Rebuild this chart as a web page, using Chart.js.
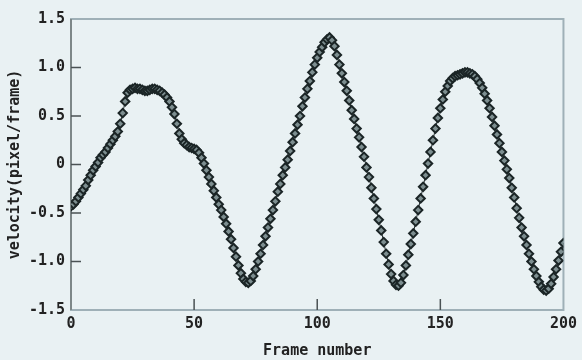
<!DOCTYPE html>
<html>
<head>
<meta charset="utf-8">
<script src="https://cdn.jsdelivr.net/npm/chart.js@4/dist/chart.umd.min.js"></script>
<style>
  html, body { margin: 0; padding: 0; background: #eaf1f3; }
  #wrap { width: 582px; height: 360px; }
</style>
</head>
<body>
<div id="wrap"><canvas id="myChart" width="582" height="360"></canvas></div>
<script>
'use strict';

// frame numbers 0..200 (one sample per frame)
const frames = [];
for (let i = 0; i <= 200; i++) {
  frames.push(i);
}

// velocity, one per frame
const velocity = [
  -0.43, -0.41, -0.38, -0.34, -0.30, -0.26, -0.22, -0.16, -0.11, -0.06,
  -0.02, 0.02, 0.07, 0.10, 0.13, 0.17, 0.21, 0.25, 0.29, 0.34,
  0.42, 0.53, 0.65, 0.74, 0.77, 0.78, 0.79, 0.78, 0.78, 0.77,
  0.76, 0.76, 0.77, 0.78, 0.78, 0.77, 0.76, 0.74, 0.72, 0.69,
  0.65, 0.59, 0.52, 0.42, 0.32, 0.26, 0.22, 0.20, 0.18, 0.17,
  0.16, 0.15, 0.12, 0.07, 0.01, -0.06, -0.13, -0.20, -0.27, -0.34,
  -0.41, -0.47, -0.54, -0.61, -0.69, -0.77, -0.86, -0.95, -1.04, -1.12,
  -1.18, -1.21, -1.22, -1.20, -1.15, -1.08, -1.00, -0.92, -0.83, -0.74,
  -0.65, -0.56, -0.47, -0.38, -0.28, -0.20, -0.11, -0.03, 0.05, 0.14,
  0.23, 0.32, 0.41, 0.50, 0.60, 0.69, 0.78, 0.86, 0.95, 1.03,
  1.10, 1.16, 1.21, 1.26, 1.29, 1.31, 1.28, 1.22, 1.13, 1.03,
  0.94, 0.85, 0.76, 0.66, 0.56, 0.47, 0.37, 0.28, 0.18, 0.08,
  -0.03, -0.13, -0.24, -0.35, -0.46, -0.57, -0.68, -0.80, -0.92, -1.03,
  -1.13, -1.20, -1.24, -1.25, -1.22, -1.14, -1.04, -0.93, -0.82, -0.71,
  -0.59, -0.47, -0.35, -0.23, -0.11, 0.01, 0.13, 0.25, 0.37, 0.48,
  0.58, 0.67, 0.75, 0.81, 0.86, 0.89, 0.91, 0.92, 0.93, 0.94,
  0.95, 0.95, 0.94, 0.93, 0.91, 0.88, 0.84, 0.79, 0.73, 0.66,
  0.58, 0.49, 0.40, 0.31, 0.22, 0.13, 0.04, -0.05, -0.14, -0.24,
  -0.34, -0.45, -0.55, -0.65, -0.74, -0.83, -0.92, -1.00, -1.08, -1.15,
  -1.21, -1.26, -1.29, -1.30, -1.28, -1.23, -1.16, -1.08, -0.99, -0.90,
  -0.81
];

const xTicks = [0, 50, 100, 150, 200];
const yTicks = [-1.5, -1.0, -0.5, 0, 0.5, 1.0, 1.5];

let points = [];
for (let i = 0; i < frames.length; i++) {
  points.push({ x: frames[i], y: velocity[i] });
}

const axisFont = { family: 'DejaVu Sans Mono', size: 15, weight: 'bold' };

// background, frame box and the little inward tick marks
const framePlugin = {
  id: 'frame',
  beforeDraw(chart) {
    let ctx = chart.ctx;
    ctx.save();
    ctx.fillStyle = '#e9f1f3';
    ctx.fillRect(0, 0, chart.width, chart.height);
    ctx.restore();
  },
  beforeDatasetsDraw(chart) {
    let ctx = chart.ctx;
    let a = chart.chartArea;
    let xs = chart.scales.x;
    let ys = chart.scales.y;
    ctx.save();
    ctx.lineWidth = 2;
    ctx.strokeStyle = '#9fb0b7';
    ctx.strokeRect(a.left, a.top, a.right - a.left, a.bottom - a.top);
    ctx.strokeStyle = '#7d8788';
    ctx.beginPath();
    ctx.moveTo(a.left, a.top);
    ctx.lineTo(a.left, a.bottom);
    ctx.stroke();

    ctx.lineWidth = 1.5;
    ctx.strokeStyle = '#4a5254';
    ctx.beginPath();
    yTicks.forEach(function(v) {
      if (v === yTicks[0] || v === yTicks[yTicks.length - 1]) return;
      let py = ys.getPixelForValue(v);
      ctx.moveTo(a.left, py);
      ctx.lineTo(a.left + 10, py);
    });
    xTicks.forEach(function(v) {
      if (v === xTicks[0] || v === xTicks[xTicks.length - 1]) return;
      let px = xs.getPixelForValue(v);
      ctx.moveTo(px, a.bottom);
      ctx.lineTo(px, a.bottom - 11);
    });
    ctx.stroke();
    ctx.restore();
  }
};

new Chart(document.getElementById('myChart'), {
  type: 'line',
  data: {
    datasets: [{
      label: 'velocity',
      data: points,
      borderColor: '#1f2a2b',
      borderWidth: 1,
      pointStyle: 'rectRot',
      pointRadius: 4.2,
      pointBorderWidth: 2,
      pointBorderColor: '#1b2526',
      pointBackgroundColor: '#7d8e90',
      tension: 0
    }]
  },
  options: {
    responsive: false,
    animation: false,
    events: [],
    layout: { padding: { left: 0, top: 19, right: 18, bottom: 0 } },
    plugins: {
      legend: { display: false },
      tooltip: { enabled: false }
    },
    scales: {
      x: {
        type: 'linear',
        min: 0,
        max: 200,
        afterBuildTicks: function(scale) {
          scale.ticks = xTicks.map(function(v) { return { value: v }; });
        },
        afterFit: function(scale) { scale.height = 50; },
        grid: { display: false, drawTicks: false },
        border: { display: false },
        ticks: { color: '#222', font: axisFont, padding: 5, maxRotation: 0 },
        title: {
          display: true,
          text: 'Frame number',
          color: '#222',
          font: axisFont,
          padding: { top: 0, bottom: 0 }
        }
      },
      y: {
        type: 'linear',
        min: -1.5,
        max: 1.5,
        afterBuildTicks: function(scale) {
          scale.ticks = yTicks.map(function(v) { return { value: v }; });
        },
        afterFit: function(scale) { scale.width = 71; },
        grid: { display: false, drawTicks: false },
        border: { display: false },
        ticks: {
          color: '#222',
          font: axisFont,
          padding: 6,
          callback: function(v) { return v === 0 ? '0' : v.toFixed(1); }
        },
        title: {
          display: true,
          text: 'velocity(pixel/frame)',
          color: '#222',
          font: axisFont,
          padding: { top: 6, bottom: 4 }
        }
      }
    }
  },
  plugins: [framePlugin]
});
</script>
</body>
</html>
